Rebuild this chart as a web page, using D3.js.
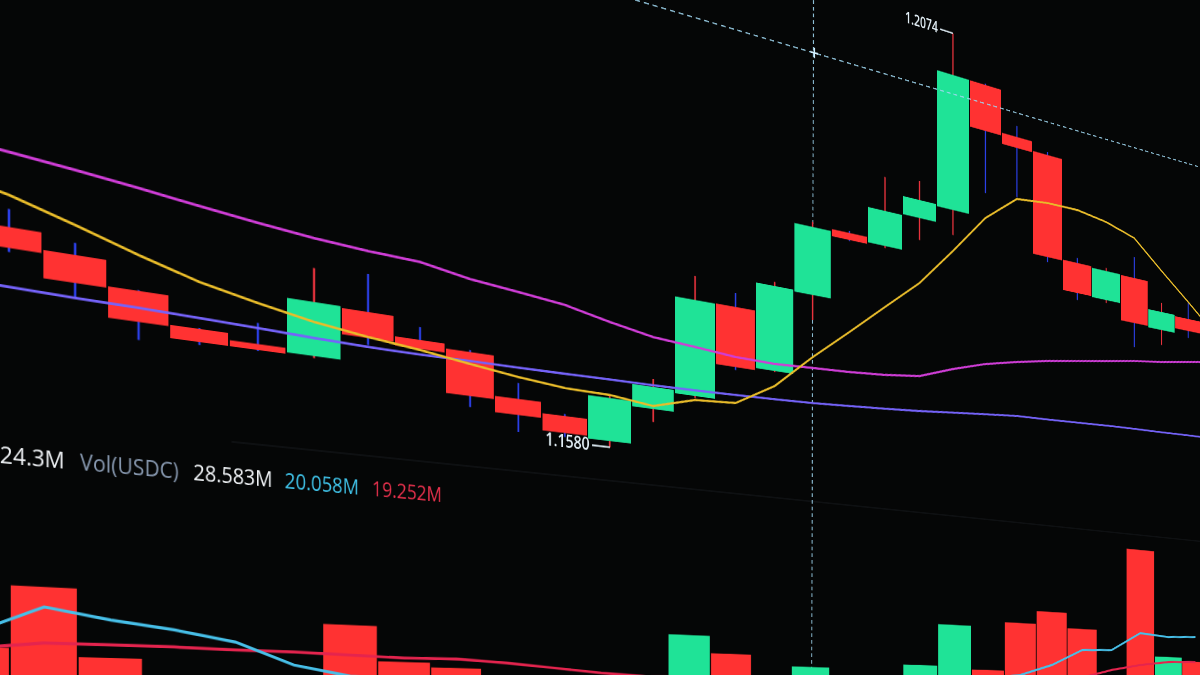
<!DOCTYPE html>
<html>
<head>
<meta charset="utf-8">
<title>Candlestick chart</title>
<script src="https://cdn.jsdelivr.net/npm/d3@7/dist/d3.min.js"></script>
<style>
  html, body { margin:0; padding:0; width:1200px; height:675px; overflow:hidden; background:#050606; }
  #stage { position:absolute; left:0; top:-600px; width:2200px; height:1500px; transform-origin:0px 600px; filter: blur(0.45px); }
  #stage svg { display:block; overflow:visible; }
</style>
</head>
<body>
<div id="stage"><svg id="chart" width="2200" height="1500"></svg></div>
<script>
// ---------------- DATA ----------------
const candleOpen  = [1.16944,1.16811,1.16606,1.16372,1.16315,1.16279,1.16720,1.16546,1.16504,1.16142,1.16040,1.15858,1.16214,1.16395,1.17333,1.16760,1.17598,1.18316,1.18262,1.18643,1.18816,1.20285,1.19809,1.19703,1.18553,1.18197,1.18531,1.17981,1.18183];
const candleClose = [1.16785,1.16594,1.16360,1.16266,1.16266,1.16734,1.16497,1.16467,1.16112,1.15996,1.15883,1.16263,1.16425,1.17330,1.16738,1.17615,1.18294,1.18243,1.18632,1.18836,1.20286,1.19777,1.19686,1.18542,1.18206,1.18537,1.17997,1.18198,1.18037];
const candleHigh  = [1.17081,1.16905,1.16613,1.16380,1.16489,1.17020,1.17047,1.16659,1.16522,1.16287,1.16059,1.16291,1.16501,1.17563,1.17471,1.17656,1.18345,1.18336,1.18990,1.19040,1.20740,1.20300,1.19933,1.19737,1.18610,1.18573,1.18781,1.18306,1.18378];
const candleLow   = [1.16754,1.16477,1.16217,1.16242,1.16258,1.16262,1.16437,1.16458,1.16014,1.15842,1.15846,1.15800,1.16090,1.16375,1.16709,1.16750,1.17342,1.18232,1.18240,1.18407,1.18544,1.19091,1.19136,1.18485,1.18125,1.18162,1.17712,1.17801,1.17951];

// moving averages, one slot before the first and one after the last visible candle
const maIndex = d3.range(-1, 30);
const maFast  = [1.17292,1.17188,1.17044,1.16891,1.16752,1.16654,1.16566,1.16506,1.16458,1.16397,1.16341,1.16299,1.16291,1.16243,1.16356,1.16382,1.16609,1.16963,1.17286,1.17618,1.17946,1.18370,1.18815,1.19114,1.19157,1.19165,1.19111,1.19006,1.18692,1.18391,1.18079];
const maMid   = [1.17552,1.17514,1.17471,1.17422,1.17367,1.17315,1.17273,1.17244,1.17228,1.17155,1.17113,1.17067,1.16978,1.16903,1.16872,1.16838,1.16830,1.16851,1.16871,1.16900,1.16949,1.17085,1.17201,1.17285,1.17359,1.17421,1.17483,1.17546,1.17596,1.17658,1.17721];
const maSlow  = [1.16503,1.16488,1.16477,1.16471,1.16461,1.16447,1.16431,1.16420,1.16418,1.16424,1.16426,1.16431,1.16437,1.16442,1.16450,1.16462,1.16475,1.16492,1.16517,1.16544,1.16573,1.16610,1.16646,1.16680,1.16693,1.16710,1.16728,1.16741,1.16750,1.16763,1.16772];

// volume (millions of USDC)
const volume  = [25.6,56.3,22.0,10.5,12.1,9.8,43.7,24.2,21.6,14.0,16.2,15.5,13.0,46.2,35.3,18.9,28.583,12.4,20.1,32.3,61.3,30.4,65.2,74.6,63.3,24.0,126.4,45.1,42.1];
const volMA5  = [32.8,46.4,41.2,37.4,32.2,20.9,15.6,14.2,12.5,11.8,12.6,13.5,14.0,15.8,17.2,18.0,20.058,19.5,18.8,21.0,23.0,24.5,27.6,35.6,47.6,48.6,62.6,60.7,61.8];
const volMA10 = [25.1,28.5,28.6,28.6,28.0,27.9,27.2,26.4,26.8,25.3,23.2,21.0,19.8,19.9,20.5,19.6,19.252,19.0,19.5,20.6,22.5,23.3,24.5,25.8,27.2,33.5,38.1,41.2,42.1];

const volAxisLabel = "24.3M";
const volTitle = "Vol(USDC)";
const crosshair = { index: 16, price: 1.2008 };

// ---------------- CAMERA (photo perspective) ----------------
const HORIZON_Y = 740, VANISH_X = 3135, p = 1 / VANISH_X;
d3.select("#stage").style("transform",
  `matrix3d(1,${HORIZON_Y * p},0,${p},0,1,0,0,0,0,1,0,0,0,0,1)`);

// ---------------- SCALES ----------------
const N = candleOpen.length;
const xP = d3.scaleLinear().domain([0, N - 1]).range([9, 9 + 68 * (N - 1)]);
const xV = d3.scaleLinear().domain([0, N - 1]).range([-25.1, -25.1 + 69.9 * (N - 1)]);
const yP = d3.scaleLinear().domain([1.1580, 1.2074]).range([376.5, -275.3]);
const yV = d3.scaleLinear().domain([0, 100]).range([700, 495.33]);
const BODY_W = 66, VOL_W = 68;

const GREEN = "#1fe397", RED = "#ff3232";
const WICK_UP = "#e8323c", WICK_DN = "#2b3fe6";
const CROSS = "#9fd6f0";

const svg = d3.select("#chart");
const g = svg.append("g").attr("transform", "translate(0,600)");

const candles = d3.range(N).map(i => ({
  i, o: candleOpen[i], c: candleClose[i], h: candleHigh[i], l: candleLow[i],
  up: candleClose[i] >= candleOpen[i]
}));

// panel separator (faint)
g.append("line").attr("x1", 250).attr("x2", 2200).attr("y1", 418).attr("y2", 418)
  .attr("stroke", "#0e1012").attr("stroke-width", 2);

// vertical crosshair (behind marks)
g.append("line")
  .attr("x1", xP(crosshair.index) + 3).attr("y1", -700)
  .attr("x2", xV(crosshair.index) + 1).attr("y2", 900)
  .attr("stroke", CROSS).attr("stroke-width", 1.8).attr("stroke-dasharray", "5,4").attr("opacity", 0.9);

// ---------- volume panel ----------
const vg = g.append("g");
vg.selectAll("rect.vol").data(candles).join("rect").attr("class", "vol")
  .attr("x", d => xV(d.i) - VOL_W / 2).attr("width", VOL_W)
  .attr("y", d => yV(volume[d.i])).attr("height", d => yV(0) - yV(volume[d.i]) + 200)
  .attr("fill", d => d.up ? GREEN : RED);

const vLine = d3.line().x((v, i) => xV(i)).y(v => yV(v));
vg.append("path").attr("d", vLine(volMA10)).attr("fill", "none").attr("stroke", "#e4244e").attr("stroke-width", 3.2);
vg.append("path").attr("d", vLine(volMA5)).attr("fill", "none").attr("stroke", "#47bfe8").attr("stroke-width", 3.2);

// legend
const fmt = d3.format(".3f");
const leg = g.append("g").attr("font-family", "'Open Sans', 'Noto Sans', sans-serif").attr("font-size", 23);
leg.append("text").attr("x", 66).attr("y", 463).attr("text-anchor", "end").attr("fill", "#eceff2").text(volAxisLabel);
leg.append("text").attr("x", 82).attr("y", 463).attr("fill", "#8697ae").text(volTitle);
leg.append("text").attr("x", 206).attr("y", 463).attr("fill", "#eef1f4").text(fmt(volume[crosshair.index]) + "M");
leg.append("text").attr("x", 313).attr("y", 463).attr("fill", "#3fc2e8").text(fmt(volMA5[crosshair.index]) + "M");
leg.append("text").attr("x", 422).attr("y", 463).attr("fill", "#e8304c").text(fmt(volMA10[crosshair.index]) + "M");

// ---------- price panel ----------
const pg = g.append("g");
pg.selectAll("line.wick").data(candles).join("line").attr("class", "wick")
  .attr("x1", d => xP(d.i)).attr("x2", d => xP(d.i))
  .attr("y1", d => yP(d.h)).attr("y2", d => yP(d.l))
  .attr("stroke", d => d.up ? WICK_UP : WICK_DN).attr("stroke-width", 2.6);

pg.selectAll("rect.body").data(candles).join("rect").attr("class", "body")
  .attr("x", d => xP(d.i) - BODY_W / 2).attr("width", BODY_W)
  .attr("y", d => yP(Math.max(d.o, d.c)))
  .attr("height", d => Math.max(3, Math.abs(yP(d.o) - yP(d.c))))
  .attr("fill", d => d.up ? GREEN : RED);

// moving averages over the candles
const maLine = d3.line().x((v, k) => xP(maIndex[k])).y(v => yP(v));
pg.append("path").attr("d", maLine(maSlow)).attr("fill", "none").attr("stroke", "#7563fa").attr("stroke-width", 2.8);
pg.append("path").attr("d", maLine(maMid)).attr("fill", "none").attr("stroke", "#cf3dd6").attr("stroke-width", 3);
pg.append("path").attr("d", maLine(maFast)).attr("fill", "none").attr("stroke", "#e9bc2a").attr("stroke-width", 2.8);

// horizontal crosshair
g.append("line").attr("x1", -100).attr("x2", 2300)
  .attr("y1", yP(crosshair.price)).attr("y2", yP(crosshair.price))
  .attr("stroke", CROSS).attr("stroke-width", 1.8).attr("stroke-dasharray", "8,6").attr("opacity", 0.9);
const cx = xP(crosshair.index) + 3, cy = yP(crosshair.price);
g.append("path").attr("d", `M${cx-7},${cy}H${cx+7}M${cx},${cy-7}V${cy+7}`)
  .attr("stroke", "#d4f0ff").attr("stroke-width", 2.4);

// extreme price labels
const hiIdx = d3.maxIndex(candleHigh), loIdx = d3.minIndex(candleLow);
const pfmt = d3.format(".4f");
[[hiIdx, candleHigh[hiIdx]], [loIdx, candleLow[loIdx]]].forEach(([i, v]) => {
  const x = xP(i), y = yP(v);
  g.append("line").attr("x1", x - 27).attr("x2", x).attr("y1", y).attr("y2", y)
    .attr("stroke", "#dbe8f0").attr("stroke-width", 2.2);
  g.append("text").attr("x", x - 31).attr("y", y).attr("dy", "0.3em")
    .attr("text-anchor", "end").attr("font-family", "'Open Sans', sans-serif")
    .attr("font-size", 21).attr("font-weight", 600).attr("fill", "#e4f0f7").text(pfmt(v));
});
</script>
</body>
</html>
